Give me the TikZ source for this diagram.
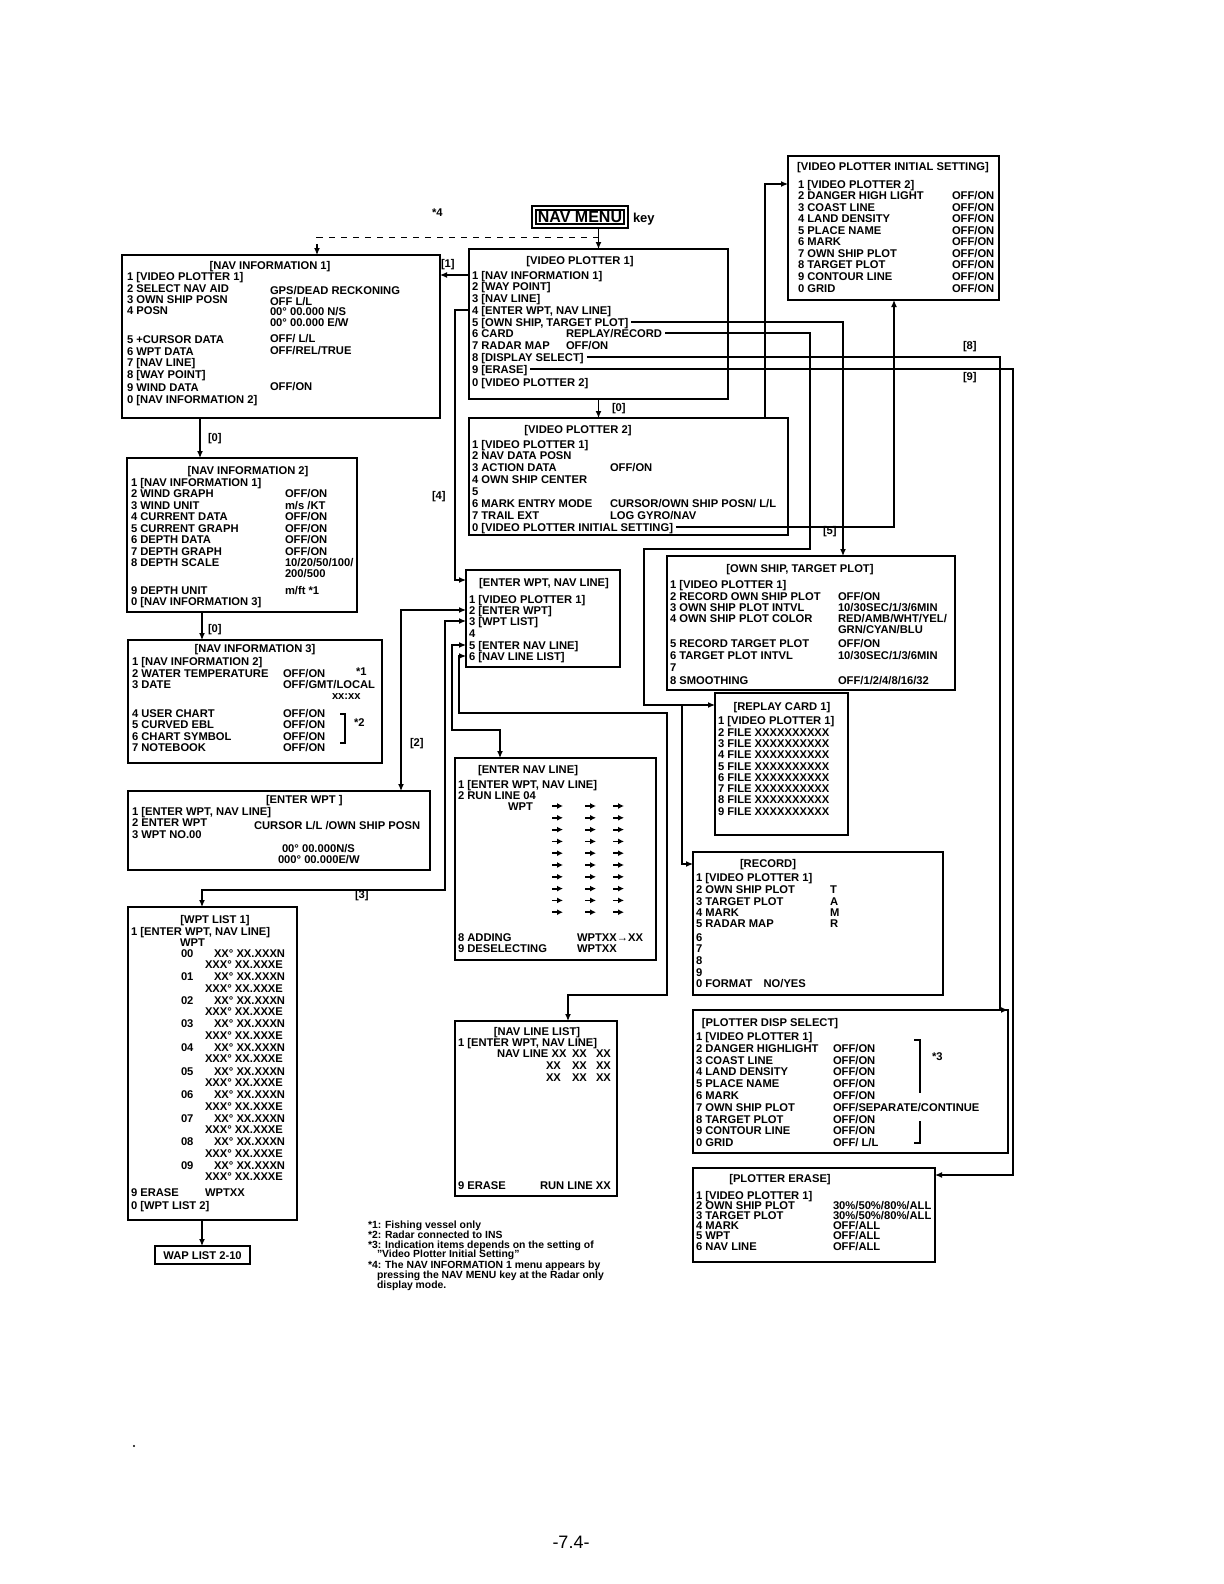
\documentclass[tikz,border=0pt]{standalone}
\usepackage{fontspec}
\setmainfont{Liberation Sans}
\usetikzlibrary{arrows.meta,calc}
\newcounter{tn}
\tikzset{
 txt/.style={anchor=west, inner sep=0pt, outer sep=0pt, font=\fontsize{5.6}{6.5}\selectfont\bfseries, text height=4pt, text depth=0pt},
 ctxt/.style={txt, anchor=center},
 fn/.style={txt, font=\fontsize{5.2}{6}\selectfont\bfseries},
 menubox/.style={draw, line width=1pt, inner sep=0pt, outer sep=0pt},
 link/.style={line width=0.6pt, -{Latex[length=3.5pt,width=3pt]}},
 blink/.style={line width=0.6pt, {Latex[length=3.5pt,width=3pt]}-{Latex[length=3.5pt,width=3pt]}},
}
\newcommand\tx[4][]{\stepcounter{tn}\edef\tmpn{#1}\ifx\tmpn\empty\edef\tmpn{t\arabic{tn}}\fi\node[txt] (\tmpn) at (#2,#3) {#4};}
\newcommand\tc[4][]{\stepcounter{tn}\edef\tmpn{#1}\ifx\tmpn\empty\edef\tmpn{t\arabic{tn}}\fi\node[ctxt] (\tmpn) at (#2,#3) {#4};}
\newcommand\menu[5]{\node[menubox, anchor=north west, minimum width={(#4-#2)*0.5pt}, minimum height={(#5-#3)*0.5pt}] (#1) at (#2,#3) {};}
\begin{document}
\begin{tikzpicture}[x=0.5pt,y=-0.5pt]
\useasboundingbox[fill=white] (0,0) rectangle (1224,1584);

% ---------- boxes ----------
\menu{vpis}{788}{156}{999}{300}
\menu{ni1}{122}{255}{440}{418}
\menu{vp1}{469}{249}{728}{399}
\menu{vp2}{469}{418}{788}{535}
\menu{ni2}{127}{458}{357}{612}
\menu{ni3}{128}{640}{382}{763}
\menu{ewpt}{128}{791}{430}{870}
\menu{ew}{466}{570}{620}{667}
\menu{own}{667}{556}{955}{690}
\menu{replay}{715}{693}{848}{835}
\menu{enl}{455}{758}{656}{960}
\menu{record}{693}{852}{943}{995}
\menu{pds}{693}{1010}{1008}{1153}
\menu{erase}{693}{1168}{935}{1262}
\menu{nll}{455}{1021}{617}{1196}
\menu{wpt}{128}{907}{297}{1220}
\menu{wap}{155}{1246}{250}{1264}

% NAV MENU key
\node[draw, line width=1.3pt, double=white, double distance=0.6pt, inner sep=1.5pt, minimum width=46pt, minimum height=9pt, font=\fontsize{8}{9}\selectfont\bfseries] (navmenu) at (580,217) {NAV MENU};
\node[txt, font=\fontsize{6.5}{7}\selectfont\bfseries] (keylbl) at (633,218) {key};
\node[txt] (st4) at (432,212) {*4};

% ---------- VIDEO PLOTTER INITIAL SETTING ----------
\tc{893}{166}{[VIDEO PLOTTER INITIAL SETTING]}
\tx[vpisa]{798}{184}{1 [VIDEO PLOTTER 2]}
\tx{798}{195}{2 DANGER HIGH LIGHT}\tx{952}{195}{OFF/ON}
\tx{798}{207}{3 COAST LINE}\tx{952}{207}{OFF/ON}
\tx{798}{218}{4 LAND DENSITY}\tx{952}{218}{OFF/ON}
\tx{798}{230}{5 PLACE NAME}\tx{952}{230}{OFF/ON}
\tx{798}{241}{6 MARK}\tx{952}{241}{OFF/ON}
\tx{798}{253}{7 OWN SHIP PLOT}\tx{952}{253}{OFF/ON}
\tx{798}{264}{8 TARGET PLOT}\tx{952}{264}{OFF/ON}
\tx{798}{276}{9 CONTOUR LINE}\tx{952}{276}{OFF/ON}
\tx{798}{288}{0 GRID}\tx{952}{288}{OFF/ON}

% ---------- NAV INFORMATION 1 ----------
\tc{270}{265}{[NAV INFORMATION 1]}
\tx{127}{276}{1 [VIDEO PLOTTER 1]}
\tx{127}{288}{2 SELECT NAV AID}\tx{270}{290}{GPS/DEAD RECKONING}
\tx{127}{299}{3 OWN SHIP POSN}\tx{270}{301}{OFF L/L}
\tx{127}{310}{4 POSN}\tx{270}{311}{00° 00.000 N/S}
\tx{270}{322}{00° 00.000 E/W}
\tx{127}{339}{5 +CURSOR DATA}\tx{270}{338}{OFF/ L/L}
\tx{127}{351}{6 WPT DATA}\tx{270}{350}{OFF/REL/TRUE}
\tx{127}{362}{7 [NAV LINE]}
\tx{127}{374}{8 [WAY POINT]}
\tx{127}{387}{9 WIND DATA}\tx{270}{386}{OFF/ON}
\tx{127}{399}{0 [NAV INFORMATION 2]}

% ---------- VIDEO PLOTTER 1 ----------
\tc{580}{260}{[VIDEO PLOTTER 1]}
\tx[vp1a]{472}{275}{1 [NAV INFORMATION 1]}
\tx{472}{286}{2 [WAY POINT]}
\tx{472}{298}{3 [NAV LINE]}
\tx[vp1d]{472}{310}{4 [ENTER WPT, NAV LINE]}
\tx[vp1e]{472}{322}{5 [OWN SHIP, TARGET PLOT]}
\tx{472}{333}{6 CARD}\tx[vp1f]{566}{333}{REPLAY/RECORD}
\tx{472}{345}{7 RADAR MAP}\tx{566}{345}{OFF/ON}
\tx[vp1h]{472}{357}{8 [DISPLAY SELECT]}
\tx[vp1i]{472}{369}{9 [ERASE]}
\tx{472}{382}{0 [VIDEO PLOTTER 2]}

% ---------- VIDEO PLOTTER 2 ----------
\tc{578}{429}{[VIDEO PLOTTER 2]}
\tx{472}{444}{1 [VIDEO PLOTTER 1]}
\tx{472}{455}{2 NAV DATA POSN}
\tx{472}{467}{3 ACTION DATA}\tx{610}{467}{OFF/ON}
\tx{472}{479}{4 OWN SHIP CENTER}
\tx{472}{491}{5}
\tx{472}{503}{6 MARK ENTRY MODE}\tx{610}{503}{CURSOR/OWN SHIP POSN/ L/L}
\tx{472}{515}{7 TRAIL EXT}\tx{610}{515}{LOG GYRO/NAV}
\tx[vp2z]{472}{527}{0 [VIDEO PLOTTER INITIAL SETTING]}

% ---------- NAV INFORMATION 2 ----------
\tc{248}{470}{[NAV INFORMATION 2]}
\tx{131}{482}{1 [NAV INFORMATION 1]}
\tx{131}{493}{2 WIND GRAPH}\tx{285}{493}{OFF/ON}
\tx{131}{505}{3 WIND UNIT}\tx{285}{505}{m/s /KT}
\tx{131}{516}{4 CURRENT DATA}\tx{285}{516}{OFF/ON}
\tx{131}{528}{5 CURRENT GRAPH}\tx{285}{528}{OFF/ON}
\tx{131}{539}{6 DEPTH DATA}\tx{285}{539}{OFF/ON}
\tx{131}{551}{7 DEPTH GRAPH}\tx{285}{551}{OFF/ON}
\tx{131}{562}{8 DEPTH SCALE}\tx{285}{562}{10/20/50/100/}
\tx{285}{573}{200/500}
\tx{131}{590}{9 DEPTH UNIT}\tx{285}{590}{m/ft *1}
\tx{131}{601}{0 [NAV INFORMATION 3]}

% ---------- NAV INFORMATION 3 ----------
\tc{255}{648}{[NAV INFORMATION 3]}
\tx{132}{661}{1 [NAV INFORMATION 2]}
\tx{132}{673}{2 WATER TEMPERATURE}\tx{283}{673}{OFF/ON}\tx{356}{671}{*1}
\tx{132}{684}{3 DATE}\tx{283}{684}{OFF/GMT/LOCAL}
\tx{332}{695}{xx:xx}
\tx{132}{713}{4 USER CHART}\tx{283}{713}{OFF/ON}
\tx{132}{724}{5 CURVED EBL}\tx{283}{724}{OFF/ON}
\tx{132}{736}{6 CHART SYMBOL}\tx{283}{736}{OFF/ON}
\tx{132}{747}{7 NOTEBOOK}\tx{283}{747}{OFF/ON}
\draw[line width=0.8pt] (340,714) -- (345,714) -- (345,743) -- (340,743);
\tx{354}{722}{*2}

% ---------- ENTER WPT ----------
\tx{266}{799}{[ENTER WPT ]}
\tx{132}{811}{1 [ENTER WPT, NAV LINE]}
\tx{132}{822}{2 ENTER WPT}\tx{254}{825}{CURSOR L/L /OWN SHIP POSN}
\tx{132}{834}{3 WPT NO.00}
\tx{282}{848}{00° 00.000N/S}
\tx{278}{859}{000° 00.000E/W}

% ---------- ENTER WPT, NAV LINE ----------
\tc{544}{582}{[ENTER WPT, NAV LINE]}
\tx{469}{599}{1 [VIDEO PLOTTER 1]}
\tx[ewb]{469}{610}{2 [ENTER WPT]}
\tx[ewc]{469}{621}{3 [WPT LIST]}
\tx{469}{633}{4}
\tx[ewe]{469}{645}{5 [ENTER NAV LINE]}
\tx[ewf]{469}{656}{6 [NAV LINE LIST]}

% ---------- OWN SHIP, TARGET PLOT ----------
\tc{800}{568}{[OWN SHIP, TARGET PLOT]}
\tx{670}{584}{1 [VIDEO PLOTTER 1]}
\tx{670}{596}{2 RECORD OWN SHIP PLOT}\tx{838}{596}{OFF/ON}
\tx{670}{607}{3 OWN SHIP PLOT INTVL}\tx{838}{607}{10/30SEC/1/3/6MIN}
\tx{670}{618}{4 OWN SHIP PLOT COLOR}\tx{838}{618}{RED/AMB/WHT/YEL/}
\tx{838}{629}{GRN/CYAN/BLU}
\tx{670}{643}{5 RECORD TARGET PLOT}\tx{838}{643}{OFF/ON}
\tx{670}{655}{6 TARGET PLOT INTVL}\tx{838}{655}{10/30SEC/1/3/6MIN}
\tx{670}{667}{7}
\tx{670}{680}{8 SMOOTHING}\tx{838}{680}{OFF/1/2/4/8/16/32}

% ---------- REPLAY CARD ----------
\tc{782}{706}{[REPLAY CARD 1]}
\tx{718}{720}{1 [VIDEO PLOTTER 1]}
\tx{718}{732}{2 FILE XXXXXXXXXX}
\tx{718}{743}{3 FILE XXXXXXXXXX}
\tx{718}{754}{4 FILE XXXXXXXXXX}
\tx{718}{766}{5 FILE XXXXXXXXXX}
\tx{718}{777}{6 FILE XXXXXXXXXX}
\tx{718}{788}{7 FILE XXXXXXXXXX}
\tx{718}{799}{8 FILE XXXXXXXXXX}
\tx{718}{811}{9 FILE XXXXXXXXXX}

% ---------- ENTER NAV LINE ----------
\tc{528}{769}{[ENTER NAV LINE]}
\tx{458}{784}{1 [ENTER WPT, NAV LINE]}
\tx{458}{795}{2 RUN LINE 04}
\tx{508}{806}{WPT}
\foreach \r in {0,...,9}{
 \foreach \c in {552,585,613}{
  \draw[line width=0.9pt,-{Latex[length=3pt,width=3pt]}] (\c,806+\r*11.8) -- ++(11,0);
 }
}
\tx{458}{937}{8 ADDING}\tx{577}{937}{WPTXX→XX}
\tx{458}{948}{9 DESELECTING}\tx{577}{948}{WPTXX}

% ---------- RECORD ----------
\tc{768}{863}{[RECORD]}
\tx{696}{877}{1 [VIDEO PLOTTER 1]}
\tx{696}{889}{2 OWN SHIP PLOT}\tx{830}{889}{T}
\tx{696}{901}{3 TARGET PLOT}\tx{830}{901}{A}
\tx{696}{912}{4 MARK}\tx{830}{912}{M}
\tx{696}{923}{5 RADAR MAP}\tx{830}{923}{R}
\tx{696}{937}{6}
\tx{696}{948}{7}
\tx{696}{960}{8}
\tx{696}{972}{9}
\tx{696}{983}{0 FORMAT\quad NO/YES}

% ---------- PLOTTER DISP SELECT ----------
\tc{770}{1022}{[PLOTTER DISP SELECT]}
\tx{696}{1036}{1 [VIDEO PLOTTER 1]}
\tx{696}{1048}{2 DANGER HIGHLIGHT}\tx{833}{1048}{OFF/ON}
\tx{696}{1060}{3 COAST LINE}\tx{833}{1060}{OFF/ON}
\tx{696}{1071}{4 LAND DENSITY}\tx{833}{1071}{OFF/ON}
\tx{696}{1083}{5 PLACE NAME}\tx{833}{1083}{OFF/ON}
\tx{696}{1095}{6 MARK}\tx{833}{1095}{OFF/ON}
\tx{696}{1107}{7 OWN SHIP PLOT}\tx{833}{1107}{OFF/SEPARATE/CONTINUE}
\tx{696}{1119}{8 TARGET PLOT}\tx{833}{1119}{OFF/ON}
\tx{696}{1130}{9 CONTOUR LINE}\tx{833}{1130}{OFF/ON}
\tx{696}{1142}{0 GRID}\tx{833}{1142}{OFF/ L/L}
\draw[line width=0.8pt] (914,1040) -- (920,1040) -- (920,1093);
\draw[line width=0.8pt] (920,1121) -- (920,1143) -- (914,1143);
\tx{932}{1056}{*3}

% ---------- PLOTTER ERASE ----------
\tc{780}{1178}{[PLOTTER ERASE]}
\tx{696}{1195}{1 [VIDEO PLOTTER 1]}
\tx{696}{1205}{2 OWN SHIP PLOT}\tx{833}{1205}{30\%/50\%/80\%/ALL}
\tx{696}{1215}{3 TARGET PLOT}\tx{833}{1215}{30\%/50\%/80\%/ALL}
\tx{696}{1225}{4 MARK}\tx{833}{1225}{OFF/ALL}
\tx{696}{1235}{5 WPT}\tx{833}{1235}{OFF/ALL}
\tx{696}{1246}{6 NAV LINE}\tx{833}{1246}{OFF/ALL}

% ---------- NAV LINE LIST ----------
\tc{537}{1031}{[NAV LINE LIST]}
\tx{458}{1042}{1 [ENTER WPT, NAV LINE]}
\tx{497}{1053}{NAV LINE XX}\tx{572}{1053}{XX}\tx{596}{1053}{XX}
\tx{546}{1065}{XX}\tx{572}{1065}{XX}\tx{596}{1065}{XX}
\tx{546}{1077}{XX}\tx{572}{1077}{XX}\tx{596}{1077}{XX}
\tx{458}{1185}{9 ERASE}\tx{540}{1185}{RUN LINE XX}

% ---------- WPT LIST ----------
\tc{215}{919}{[WPT LIST 1]}
\tx{131}{931}{1 [ENTER WPT, NAV LINE]}
\tx{180}{942}{WPT}
\foreach \k/\n in {0/00,1/01,2/02,3/03,4/04,5/05,6/06,7/07,8/08,9/09}{
 \node[txt] (wn\k) at (181,953+\k*23.6) {\n};
 \node[txt] (wa\k) at (214,953+\k*23.6) {XX° XX.XXXN};
 \node[txt] (wb\k) at (205,964.5+\k*23.6) {XXX° XX.XXXE};
}
\tx{131}{1192}{9 ERASE}\tx{205}{1192}{WPTXX}
\tx{131}{1205}{0 [WPT LIST 2]}
\node[txt, anchor=center] (waplbl) at (wap) {WAP LIST 2-10};

% ---------- labels ----------
\tx{441}{263}{[1]}
\tx{432}{495}{[4]}
\tx{612}{407}{[0]}
\tx{208}{437}{[0]}
\tx{208}{628}{[0]}
\tx{410}{742}{[2]}
\tx{355}{894}{[3]}
\tx{823}{530}{[5]}
\tx{963}{345}{[8]}
\tx{963}{376}{[9]}

% ---------- connectors ----------
\draw[link] (navmenu.south -| vp1.north) -- (vp1.north);
\draw[link, dashed] ($(navmenu.south -| vp1.north)+(0,10)$) -| ($(ni1.north west)+(195,0)$);
\draw[link] (vp1.west |- vp1a) -- (ni1.east |- vp1a);
\draw[link] (vp1.west |- vp1d) -- ++(-14,0) |- ($(ew.north west)+(0,10)$);
\draw[link] (vp1.south) -- (vp1.south |- vp2.north);
\draw[link] ([xshift=1.5pt]vp1e.east) -| ($(own.north west)+(176,0)$);
\draw[link] ([xshift=1.5pt]vp1f.east) -| (810,549) -| (644,705) -- (replay.west |- 0,705);
\draw[link] (682,705) |- (record.west |- 0,864);
\draw[link] ([xshift=1.5pt]vp2z.east) -| (vpis.south -| 894,0);
\draw[link] (765,418) -- (765,184) -- (vpis.west |- vpisa);
\draw[link] ([xshift=1.5pt]vp1h.east) -| (1000,1010) -- (pds.north east |- 0,1010);
\draw[link] ([xshift=1.5pt]vp1i.east) -| (1013,1175) -- (erase.east |- 0,1175);
\draw[link] ($(ni1.south west)+(78,0)$) -- ($(ni2.north west)+(73,0)$);
\draw[link] ($(ni2.south west)+(75,0)$) -- ($(ni3.north west)+(74,0)$);
\draw[blink] (ew.west |- ewb) -| ($(ewpt.north west)+(273,0)$);
\draw[blink] (ew.west |- ewc) -| (445,890) -| ($(wpt.north west)+(74,0)$);
\draw[blink] (ew.west |- ewe) -| (452,730) -| ($(enl.north west)+(45,0)$);
\draw[blink] (ew.west |- ewf) -| (459,713) -| (667,995) -| ($(nll.north west)+(113,0)$);
\draw[link] ($(wpt.south west)+(74,0)$) -- ($(wap.north west)+(47,0)$);

% ---------- footnotes ----------
\node[fn] (f1) at (368,1224) {*1: Fishing vessel only};
\node[fn] (f2) at (368,1234) {*2: Radar connected to INS};
\node[fn] (f3) at (368,1244) {*3: Indication items depends on the setting of};
\node[fn] (f4) at (377,1253) {"Video Plotter Initial Setting"};
\node[fn] (f5) at (368,1264) {*4: The NAV INFORMATION 1 menu appears by};
\node[fn] (f6) at (377,1274) {pressing the NAV MENU key at the Radar only};
\node[fn] (f7) at (377,1284) {display mode.};

\node[font=\fontsize{9}{10}\selectfont] (pageno) at (571,1542) {-7.4-};
\fill (134,1446) circle (1.2);
\end{tikzpicture}
\end{document}
